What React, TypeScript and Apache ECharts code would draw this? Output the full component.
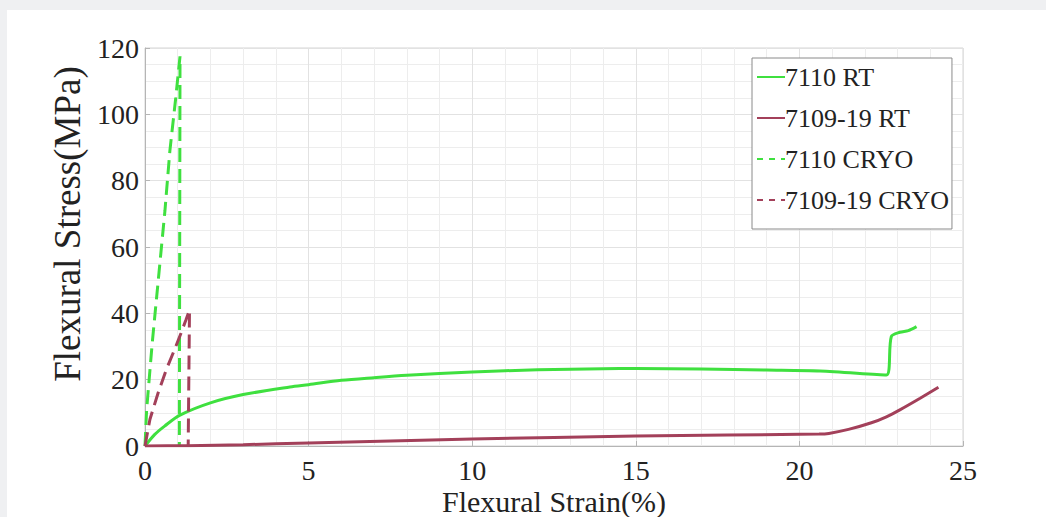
import React, { useEffect, useRef } from "react";
import * as echarts from "echarts";

const seriesNames = ["7110 RT", "7109-19 RT", "7110 CRYO", "7109-19 CRYO"];

const rt7110Strain = [0, 0.3, 0.6, 1.07, 2, 3, 4.43, 5, 6, 7, 8, 10, 12, 14, 15, 17, 19, 20.63, 22.66, 22.81, 23.07, 23.33, 23.58];
const rt7110Stress = [0, 3.5, 6, 9.3, 13, 15.5, 17.8, 18.5, 19.8, 20.6, 21.3, 22.3, 23, 23.3, 23.4, 23.2, 22.9, 22.6, 21.4, 33, 34.3, 34.8, 36];

const rt710919Strain = [0, 1.3, 3, 5, 10, 15, 20.6, 20.9, 21.5, 22.2, 22.66, 23.07, 23.69, 24.25];
const rt710919Stress = [0, 0.1, 0.4, 0.9, 2.1, 3.0, 3.6, 3.8, 5, 7, 8.8, 10.9, 14.4, 17.7];

const cryo7110Strain = [0, 0.05, 0.22, 0.43, 0.61, 0.76, 0.94, 1.07, 1.05];
const cryo7110Stress = [0, 11, 31, 52.5, 71, 89, 105, 117.5, 0];

const cryo710919Strain = [0, 0.15, 0.4, 0.65, 0.9, 1.1, 1.25, 1.36, 1.32];
const cryo710919Stress = [0, 8, 16, 23, 29, 34, 38, 41, 0];

const xTicks = [0, 5, 10, 15, 20, 25];
const yTicks = [0, 20, 40, 60, 80, 100, 120];

const zip = (xs: number[], ys: number[]) => xs.map((x, i) => [x, ys[i]]);

const GREEN = "#3fe03f";
const RED = "#a3405a";
const FONT = "'Liberation Serif', 'Times New Roman', serif";

export default function App() {
  const ref = useRef<HTMLDivElement>(null);
  useEffect(() => {
    if (!ref.current) return;
    const chart = echarts.init(ref.current, undefined, { renderer: "svg" });
    const axisLine = { show: true, lineStyle: { color: "#b5b5b5", width: 1 } };
    const axisTick = { show: true, inside: true, length: 5, lineStyle: { color: "#b5b5b5" } };
    const splitLine = { show: true, lineStyle: { color: "#e2e2e2", width: 1 } };
    const minorSplitLine = { show: true, lineStyle: { color: "#ededed", width: 1 } };
    chart.setOption({
      animation: false,
      backgroundColor: "#ffffff",
      grid: {
        left: 138,
        top: 38,
        right: 83,
        bottom: 71,
        outerBoundsMode: "none",
        containLabel: false,
        show: true,
        borderColor: "#d4d4d4",
        borderWidth: 1,
        backgroundColor: "transparent",
      },
      legend: {
        orient: "vertical",
        left: 745,
        top: 48,
        padding: [6, 3, 16, 4],
        itemGap: 15,
        itemWidth: 28,
        itemHeight: 14,
        backgroundColor: "#ffffff",
        borderColor: "#8a8a8a",
        borderWidth: 1,
        itemStyle: { opacity: 0, borderWidth: 0 },
        textStyle: { fontFamily: FONT, fontSize: 26, color: "#222", padding: [0, 0, 0, -5] },
        data: [
          { name: seriesNames[0] },
          { name: seriesNames[1] },
          { name: seriesNames[2], lineStyle: { type: [6, 6] } },
          { name: seriesNames[3], lineStyle: { type: [6, 6] } },
        ],
      },
      xAxis: {
        type: "value",
        min: 0,
        max: 25,
        interval: 5,
        minorTick: { show: false, splitNumber: 5 },
        minorSplitLine,
        axisLine,
        axisTick,
        splitLine,
        axisLabel: {
          fontFamily: FONT,
          fontSize: 28,
          color: "#222",
          margin: 10,
          formatter: (v: number) => (xTicks.includes(v) ? String(v) : ""),
        },
        name: "Flexural Strain(%)",
        nameLocation: "middle",
        nameMoveOverlap: false,
        nameGap: 40,
        nameTextStyle: { fontFamily: FONT, fontSize: 30, color: "#222", verticalAlign: "top", lineHeight: 30 },
      },
      yAxis: {
        type: "value",
        min: 0,
        max: 120,
        interval: 20,
        minorTick: { show: false, splitNumber: 4 },
        minorSplitLine,
        axisLine,
        axisTick,
        splitLine,
        axisLabel: {
          fontFamily: FONT,
          fontSize: 28,
          color: "#222",
          margin: 6,
          formatter: (v: number) => (yTicks.includes(v) ? String(v) : ""),
        },
        name: "Flexural Stress(MPa)",
        nameLocation: "middle",
        nameGap: 57,
        nameTextStyle: { fontFamily: FONT, fontSize: 37, color: "#222", padding: [0, 0, 0, 46] },
      },
      series: [
        {
          name: seriesNames[0],
          type: "line",
          data: zip(rt7110Strain, rt7110Stress),
          showSymbol: false,
          symbol: "none",
          smooth: 0.3,
          lineStyle: { color: GREEN, width: 3 },
          itemStyle: { color: GREEN },
          z: 3,
        },
        {
          name: seriesNames[1],
          type: "line",
          data: zip(rt710919Strain, rt710919Stress),
          showSymbol: false,
          symbol: "none",
          smooth: 0.2,
          lineStyle: { color: RED, width: 3 },
          itemStyle: { color: RED },
          z: 4,
        },
        {
          name: seriesNames[2],
          type: "line",
          data: zip(cryo7110Strain, cryo7110Stress),
          showSymbol: false,
          symbol: "none",
          lineStyle: { color: GREEN, width: 3, type: [14, 7] },
          itemStyle: { color: GREEN },
          z: 3,
        },
        {
          name: seriesNames[3],
          type: "line",
          data: zip(cryo710919Strain, cryo710919Stress),
          showSymbol: false,
          symbol: "none",
          lineStyle: { color: RED, width: 3, type: [14, 7] },
          itemStyle: { color: RED },
          z: 4,
        },
      ],
    });
    return () => chart.dispose();
  }, []);

  return (
    <div style={{ position: "fixed", left: 0, top: 0, width: 1046, height: 517, background: "#eff0f2", overflow: "hidden" }}>
      <div
        ref={ref}
        style={{ position: "absolute", left: 7, top: 10, width: 1039, height: 507, background: "#ffffff" }}
      />
    </div>
  );
}
